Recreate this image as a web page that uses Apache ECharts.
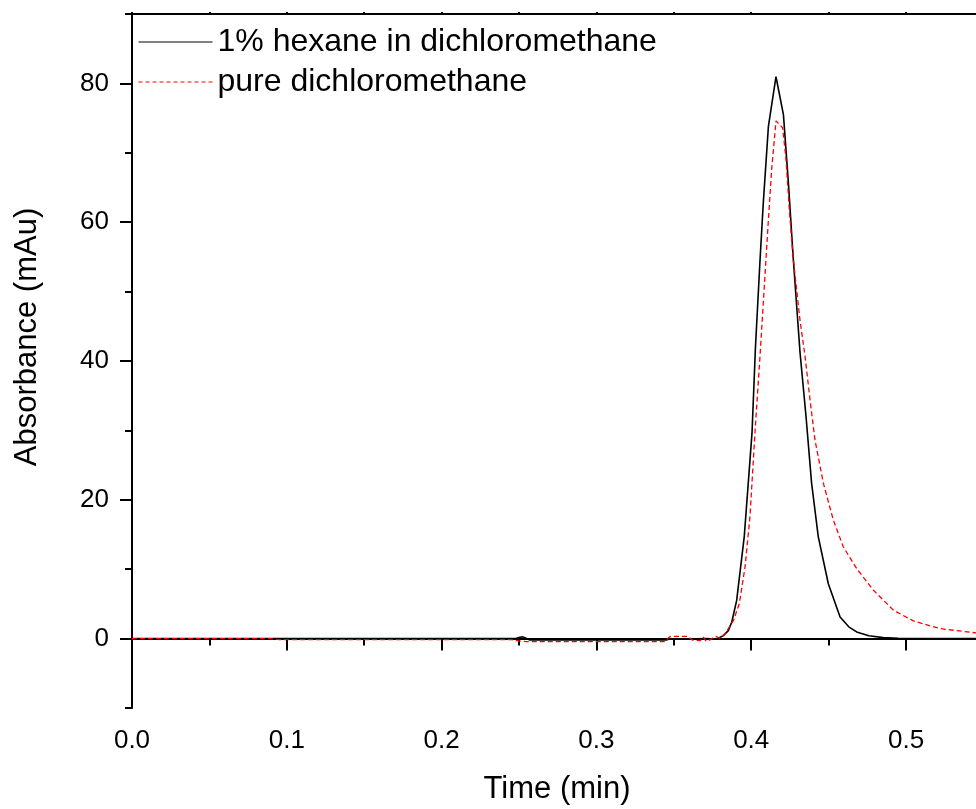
<!DOCTYPE html>
<html>
<head>
<meta charset="utf-8">
<script src="https://cdn.jsdelivr.net/npm/echarts@6/dist/echarts.min.js"></script>
<style>
html,body{margin:0;padding:0;background:#fff;}
#chart{width:976px;height:809px;}
</style>
</head>
<body>
<div id="chart"></div>
<script>
// ---- data ----
var seriesNames = ['1% hexane in dichloromethane', 'pure dichloromethane'];

var timeHexane = [0, 0.05, 0.1, 0.15, 0.2, 0.248, 0.2505, 0.2525, 0.2545, 0.257, 0.3, 0.345, 0.3475, 0.36, 0.37,
  0.3777, 0.382, 0.3852, 0.3874, 0.3906, 0.3955, 0.4005, 0.4027, 0.4057, 0.4078, 0.4111, 0.4160, 0.4208, 0.4240, 0.4272,
  0.4315, 0.4354, 0.4390, 0.4433, 0.4498, 0.4574, 0.4630, 0.4681, 0.4760, 0.4853, 0.4950, 0.5100, 0.5300, 0.5452];
var absHexane = [0, 0, 0, 0, 0, 0, 0.2, 0.25, 0.05, -0.2, -0.2, -0.2, -0.05, -0.05, 0,
  -0.05, 0.43, 1.15, 2.35, 5.5, 14.7, 29.6, 41.8, 54.6, 62.8, 73.8, 80.96, 75.5, 65.7, 54.6,
  41.3, 32.0, 22.4, 14.7, 7.9, 3.1, 1.7, 0.96, 0.4, 0.14, 0.05, 0, 0, 0];

var timePure = [0, 0.05, 0.09, 0.095, 0.15, 0.2, 0.245, 0.25, 0.255, 0.3, 0.344, 0.347, 0.349, 0.359, 0.362,
  0.367, 0.369, 0.371, 0.374, 0.377, 0.3798, 0.3831, 0.3885, 0.3923, 0.3960, 0.3992, 0.4024, 0.4057, 0.4090, 0.4111,
  0.4132, 0.4160, 0.4203, 0.4225, 0.4246, 0.4272, 0.4315, 0.4347, 0.4380, 0.4412, 0.4466, 0.4530, 0.4595, 0.4681,
  0.4788, 0.4918, 0.5047, 0.5220, 0.5452];
var absPure = [0, 0, 0, -0.15, -0.15, -0.15, -0.15, -0.35, -0.43, -0.43, -0.43, 0.2, 0.33, 0.33, -0.2,
  -0.3, 0.2, -0.4, -0.1, 0.33, 0.05, 0.7, 2.6, 5.05, 10.3, 17.6, 29.6, 40.8, 52.7, 60.4,
  67.6, 74.6, 73.6, 69.0, 61.8, 54.6, 45.9, 40.8, 34.4, 28.6, 22.4, 17.1, 13.2, 10.1,
  7.0, 4.1, 2.55, 1.44, 0.82];

var xMajorTicks = [0, 0.1, 0.2, 0.3, 0.4, 0.5];
var xMinorTicks = [0.05, 0.15, 0.25, 0.35, 0.45];
var yMajorTicks = [0, 20, 40, 60, 80];
var yMinorTicks = [-10, 10, 30, 50, 70, 90];

var xTitle = 'Time (min)';
var yTitle = 'Absorbance (mAu)';

// ---- build ----
function pairs(t, v) { return t.map(function (x, i) { return [x, v[i]]; }); }

var FONT = '"Liberation Sans", Arial, Helvetica, sans-serif';
var X_MIN = 0, X_MAX = 0.5452, Y_MIN = -10, Y_MAX = 90;

var chart = echarts.init(document.getElementById('chart'), null, {renderer: 'canvas'});

var axisLineStyle = {show: true, lineStyle: {color: '#000', width: 2}};

var option = {
  animation: false,
  backgroundColor: '#fff',
  grid: {left: 132, right: 0, top: 14, bottom: 101, containLabel: false},
  legend: {
    orient: 'vertical',
    left: 138,
    top: 26,
    padding: 0,
    itemWidth: 74,
    itemHeight: 14,
    itemGap: 8,
    textStyle: {fontSize: 32, fontFamily: FONT, color: '#000', lineHeight: 32},
    data: [
      {name: seriesNames[0], itemStyle: {opacity: 0, borderWidth: 0}, lineStyle: {color: '#000', width: 1, type: 'solid'}},
      {name: seriesNames[1], itemStyle: {opacity: 0, borderWidth: 0}, lineStyle: {color: '#ff0000', width: 1, type: [4, 3]}}
    ]
  },
  xAxis: [
    {
      type: 'value', position: 'bottom', min: X_MIN, max: X_MAX,
      axisLine: axisLineStyle,
      axisTick: {show: true, customValues: xMajorTicks, length: 12, inside: false, lineStyle: {color: '#000', width: 2}},
      axisLabel: {show: true, customValues: xMajorTicks, margin: 20, fontSize: 26, fontFamily: FONT, color: '#000',
        formatter: function (v) { return Number(v).toFixed(1); }},
      splitLine: {show: false}
    },
    {
      type: 'value', position: 'bottom', min: X_MIN, max: X_MAX,
      axisLine: {show: false},
      axisTick: {show: true, customValues: xMinorTicks, length: 7, lineStyle: {color: '#000', width: 2}},
      axisLabel: {show: false},
      splitLine: {show: false}
    },
    {
      type: 'value', position: 'top', min: X_MIN, max: X_MAX,
      axisLine: axisLineStyle,
      axisTick: {show: true, customValues: xMajorTicks.concat(xMinorTicks), length: 2, lineStyle: {color: '#000', width: 2}},
      axisLabel: {show: false},
      splitLine: {show: false}
    }
  ],
  yAxis: [
    {
      type: 'value', position: 'left', min: Y_MIN, max: Y_MAX,
      axisLine: axisLineStyle,
      axisTick: {show: true, customValues: yMajorTicks, length: 12, lineStyle: {color: '#000', width: 2}},
      axisLabel: {show: true, customValues: yMajorTicks, margin: 23, fontSize: 26, fontFamily: FONT, color: '#000'},
      splitLine: {show: false}
    },
    {
      type: 'value', position: 'left', min: Y_MIN, max: Y_MAX,
      axisLine: {show: false},
      axisTick: {show: true, customValues: yMinorTicks, length: 7, lineStyle: {color: '#000', width: 2}},
      axisLabel: {show: false},
      splitLine: {show: false}
    }
  ],
  graphic: [
    {type: 'text', x: 557, y: 789, style: {text: xTitle, fontSize: 31, fontFamily: FONT, fill: '#000', align: 'center', verticalAlign: 'middle'}},
    {type: 'text', x: 27, y: 337, rotation: Math.PI / 2, style: {text: yTitle, fontSize: 31, fontFamily: FONT, fill: '#000', align: 'center', verticalAlign: 'middle'}}
  ],
  series: [
    {
      name: seriesNames[0], type: 'line', xAxisIndex: 0, yAxisIndex: 0,
      data: pairs(timeHexane, absHexane), symbol: 'none', smooth: false,
      lineStyle: {color: '#000', width: 1.6}, itemStyle: {color: '#000'}, z: 3
    },
    {
      name: seriesNames[1], type: 'line', xAxisIndex: 0, yAxisIndex: 0,
      data: pairs(timePure, absPure), symbol: 'none', smooth: false,
      lineStyle: {color: '#ff0000', width: 1.3, type: [5, 3]}, itemStyle: {color: '#ff0000'}, z: 4
    }
  ]
};
chart.setOption(option);
</script>
</body>
</html>
